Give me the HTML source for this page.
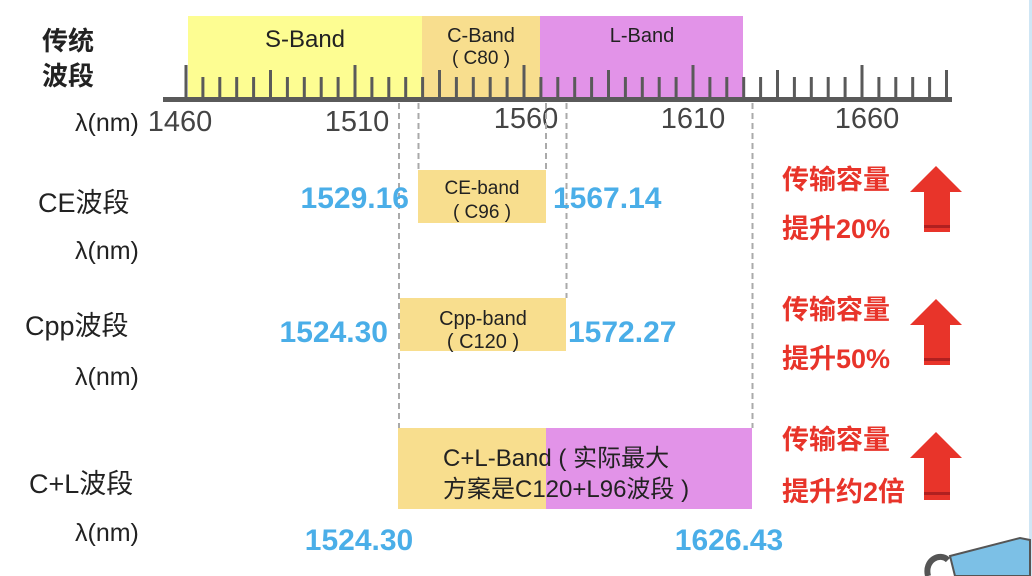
<!DOCTYPE html>
<html><head><meta charset="utf-8"><style>
html,body{margin:0;padding:0;background:#fff;}
svg{display:block;}
text{font-family:"Liberation Sans","Noto Sans CJK SC",sans-serif;}
</style></head><body>
<svg width="1032" height="576" viewBox="0 0 1032 576" xmlns="http://www.w3.org/2000/svg">
<rect x="1029" y="0" width="3" height="576" fill="#cfe6f5"/>
<rect x="188" y="16" width="234" height="83" fill="#fdfd92"/>
<rect x="422" y="16" width="118" height="83" fill="#f8de8e"/>
<rect x="540" y="16" width="203" height="83" fill="#e293e8"/>
<text x="305" y="47" font-size="24" text-anchor="middle" fill="#222">S-Band</text>
<text x="481" y="42" font-size="20" text-anchor="middle" fill="#222">C-Band</text>
<text x="481" y="64" font-size="19" text-anchor="middle" fill="#222">( C80 )</text>
<text x="642" y="42" font-size="20" text-anchor="middle" fill="#222">L-Band</text>
<rect x="163" y="97" width="789" height="5" fill="#5a5a5a"/>
<path stroke="#5a5a5a" stroke-width="3" fill="none" d="
M186 99V65 M202.9 99V77 M219.8 99V77 M236.7 99V77 M253.6 99V77 M270.5 99V70 M287.4 99V77 M304.3 99V77 M321.2 99V77 M338.1 99V77
M355 99V65 M371.9 99V77 M388.8 99V77 M405.7 99V77 M422.6 99V77 M439.5 99V70 M456.4 99V77 M473.3 99V77 M490.2 99V77 M507.1 99V77
M524 99V65 M540.9 99V77 M557.8 99V77 M574.7 99V77 M591.6 99V77 M608.5 99V70 M625.4 99V77 M642.3 99V77 M659.2 99V77 M676.1 99V77
M693 99V65 M709.9 99V77 M726.8 99V77 M743.7 99V77 M760.6 99V77 M777.5 99V70 M794.4 99V77 M811.3 99V77 M828.2 99V77 M845.1 99V77
M862 99V65 M878.9 99V77 M895.8 99V77 M912.7 99V77 M929.6 99V77 M946.5 99V70"/>
<text x="42" y="50" font-size="26" font-weight="bold" fill="#222">传统</text>
<text x="42" y="85" font-size="26" font-weight="bold" fill="#222">波段</text>
<text x="75" y="131" font-size="25" fill="#222">λ(nm)</text>
<g font-size="29" fill="#444" text-anchor="middle">
<text x="180" y="131">1460</text><text x="357" y="131">1510</text><text x="526" y="128">1560</text><text x="693" y="128">1610</text><text x="867" y="128">1660</text>
</g>
<g stroke="#aaa" stroke-width="2" stroke-dasharray="6,4" fill="none">
<path d="M399 103V428 M418.5 103V170 M546 103V170 M566.5 103V298 M752.5 103V428"/>
</g>
<rect x="418" y="170" width="128" height="53" fill="#f8de8e"/>
<text x="482" y="194" font-size="19" text-anchor="middle" fill="#222">CE-band</text>
<text x="482" y="218" font-size="19" text-anchor="middle" fill="#222">( C96 )</text>
<rect x="400" y="298" width="166" height="53" fill="#f8de8e"/>
<text x="483" y="325" font-size="20" text-anchor="middle" fill="#222">Cpp-band</text>
<text x="483" y="348" font-size="20" text-anchor="middle" fill="#222">( C120 )</text>
<rect x="398" y="428" width="148" height="81" fill="#f8de8e"/>
<rect x="546" y="428" width="206" height="81" fill="#e293e8"/>
<text x="443" y="466" font-size="24" fill="#222">C+L-Band ( 实际最大</text>
<text x="443" y="497" font-size="24" fill="#222">方案是C120+L96波段 )</text>
<g font-size="30" font-weight="bold" fill="#4aaee8">
<text x="409" y="208" text-anchor="end">1529.16</text>
<text x="553" y="208">1567.14</text>
<text x="388" y="342" text-anchor="end">1524.30</text>
<text x="568" y="342">1572.27</text>
<text x="359" y="550" text-anchor="middle">1524.30</text>
<text x="729" y="550" text-anchor="middle">1626.43</text>
</g>
<g font-size="27" fill="#222">
<text x="38" y="212">CE波段</text>
<text x="75" y="259" font-size="25">λ(nm)</text>
<text x="25" y="335">Cpp波段</text>
<text x="75" y="385" font-size="25">λ(nm)</text>
<text x="29" y="493">C+L波段</text>
<text x="75" y="541" font-size="25">λ(nm)</text>
</g>
<g font-size="27" font-weight="bold" fill="#e8342a">
<text x="782" y="189">传输容量</text><text x="782" y="238">提升20%</text>
<text x="782" y="319">传输容量</text><text x="782" y="368">提升50%</text>
<text x="782" y="449">传输容量</text><text x="782" y="501">提升约2倍</text>
</g>
<g fill="#e8342a">
<path d="M936 166 L962 192 L950 192 L950 232 L924 232 L924 192 L910 192 Z"/>
<path d="M936 299 L962 325 L950 325 L950 365 L924 365 L924 325 L910 325 Z"/>
<path d="M936 432 L962 458 L950 458 L950 500 L924 500 L924 458 L910 458 Z"/>
</g>
<g fill="#b02020"><rect x="924" y="225" width="26" height="3"/><rect x="924" y="358" width="26" height="3"/><rect x="924" y="492" width="26" height="3"/></g>
<path d="M950 556 L1020 538 L1030 540 L1030 576 L955 576 Z" fill="#7cc0e6" stroke="#555" stroke-width="2"/>
<path d="M928 576 C924 560 940 552 948 560" stroke="#555" stroke-width="6" fill="none"/>
</svg>
</body></html>
